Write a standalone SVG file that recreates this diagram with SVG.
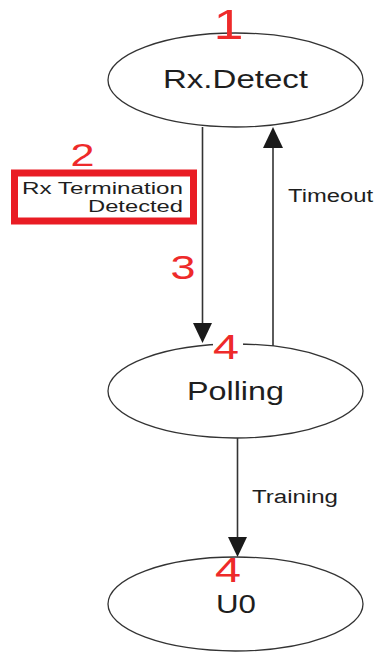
<svg xmlns="http://www.w3.org/2000/svg" width="377" height="652" viewBox="0 0 377 652">
<style>
.state{fill:#fff;stroke:#333;stroke-width:1.3}
.lbl{font-family:"Liberation Sans",Arial,sans-serif;fill:#1e1e1e}
.num{font-family:"Liberation Sans",Arial,sans-serif;fill:#ee2a2a;text-anchor:middle}
.edge{stroke:#333;stroke-width:1.6;fill:none}
.head{fill:#1a1a1a}
</style>
<rect width="377" height="652" fill="#fff"/>
<g id="connectors">
  <line class="edge" x1="202.5" y1="127" x2="202.5" y2="325"/>
  <polygon class="head" points="193,323 212,323 202.5,343"/>
  <line class="edge" x1="273" y1="346" x2="273" y2="146"/>
  <polygon class="head" points="263,148 283,148 273,127"/>
  <line class="edge" x1="237.5" y1="438" x2="237.5" y2="539"/>
  <polygon class="head" points="228,537 247,537 237.5,557"/>
  <text class="lbl" x="288" y="202" font-size="18" textLength="85" lengthAdjust="spacingAndGlyphs">Timeout</text>
  <text class="lbl" x="252" y="503" font-size="18" textLength="86" lengthAdjust="spacingAndGlyphs">Training</text>
  <text class="num" x="183" y="279" font-size="33" textLength="25" lengthAdjust="spacingAndGlyphs">3</text>
</g>
<g id="rxdetect">
  <ellipse class="state" cx="235.5" cy="80" rx="127.5" ry="47"/>
  <text class="lbl" x="163" y="88" font-size="25" textLength="145" lengthAdjust="spacingAndGlyphs">Rx.Detect</text>
  <text class="num" x="228.5" y="39" font-size="43" textLength="30" lengthAdjust="spacingAndGlyphs">1</text>
</g>
<g id="condition">
  <rect x="14.5" y="173" width="179" height="48" fill="#fff" stroke="#e91c24" stroke-width="7"/>
  <text class="lbl" x="22" y="193.5" font-size="16.5" textLength="161" lengthAdjust="spacingAndGlyphs">Rx Termination</text>
  <text class="lbl" x="88" y="211.5" font-size="16.5" textLength="95" lengthAdjust="spacingAndGlyphs">Detected</text>
  <text class="num" x="82.5" y="166" font-size="32" textLength="24" lengthAdjust="spacingAndGlyphs">2</text>
</g>
<g id="polling">
  <ellipse class="state" cx="235.5" cy="391" rx="127.5" ry="47"/>
  <rect x="213" y="338" width="30" height="14" fill="#fff"/>
  <text class="lbl" x="187" y="400" font-size="25" textLength="97" lengthAdjust="spacingAndGlyphs">Polling</text>
  <text class="num" x="226" y="359" font-size="35" textLength="26" lengthAdjust="spacingAndGlyphs">4</text>
</g>
<g id="u0">
  <ellipse class="state" cx="235.5" cy="604" rx="127.5" ry="47"/>
  <text class="lbl" x="216" y="613" font-size="25" textLength="40" lengthAdjust="spacingAndGlyphs">U0</text>
  <text class="num" x="228" y="582" font-size="35" textLength="26" lengthAdjust="spacingAndGlyphs">4</text>
</g>
</svg>
